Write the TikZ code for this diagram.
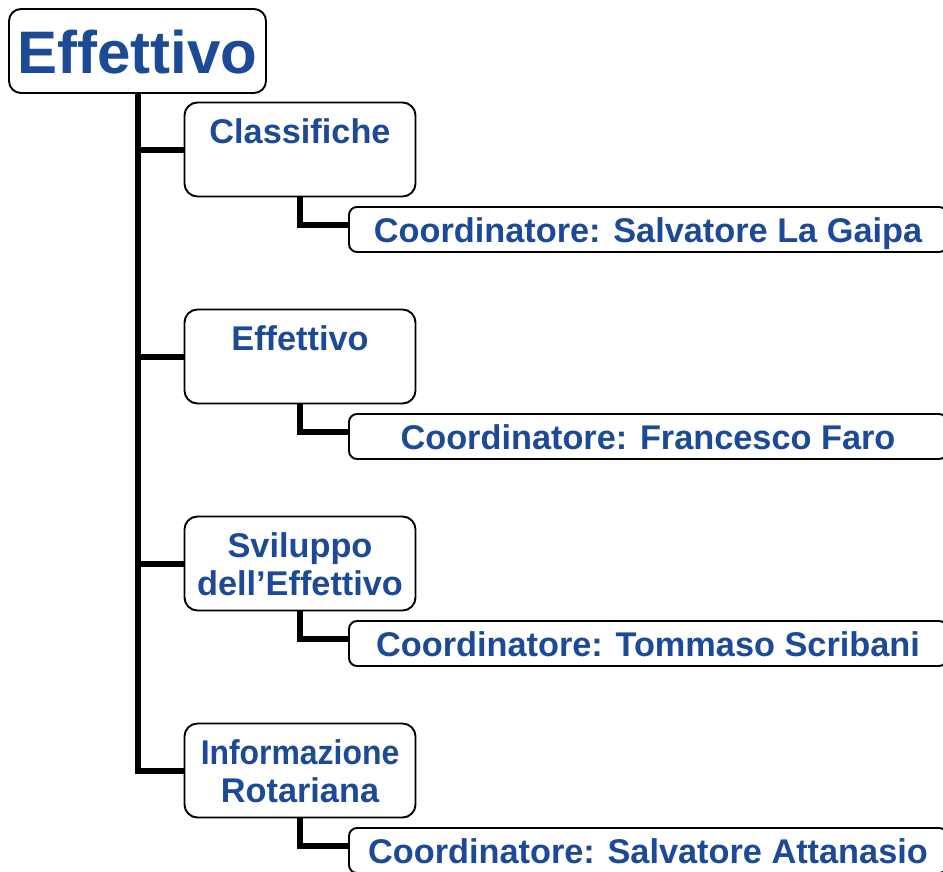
\documentclass[tikz,border=0pt]{standalone}
\usepackage{fontspec}
\setmainfont{Liberation Sans}
\usetikzlibrary{backgrounds}
\definecolor{txtblue}{RGB}{28,74,150}
\tikzset{
  rootbox/.style={draw=black, line width=1.9pt, rounded corners=12pt, fill=white, minimum width=257pt, minimum height=84pt, inner sep=0pt},
  catbox/.style={draw=black, line width=1.9pt, rounded corners=13pt, fill=white, minimum width=231pt, minimum height=94pt, inner sep=0pt},
  coordbox/.style={draw=black, line width=1.9pt, rounded corners=8pt, fill=white, minimum width=598pt, minimum height=45pt, inner sep=0pt},
  conn/.style={draw=black, line width=6pt},
  roottxt/.style={text=txtblue, font=\fontsize{60}{66}\selectfont\bfseries, inner sep=0pt, anchor=base},
  cattxt/.style={text=txtblue, font=\fontsize{34.3}{38}\selectfont\bfseries, inner sep=0pt, anchor=base, align=center},
  coordtxt/.style={text=txtblue, font=\fontsize{34.3}{38}\selectfont\bfseries, inner sep=0pt, anchor=base}
}
\begin{document}
\begin{tikzpicture}[x=1pt,y=-1pt]
\useasboundingbox (0,0) rectangle (943,871);
\node[rootbox] (root) at (137.5,51) {};
\node[catbox] (c1) at (300,149.5) {};
\node[catbox] (c2) at (300,356.5) {};
\node[catbox] (c3) at (300,563.5) {};
\node[catbox] (c4) at (300,770.5) {};
\node[coordbox] (k1) at (648,229.5) {};
\node[coordbox] (k2) at (648,436.5) {};
\node[coordbox] (k3) at (648,643.5) {};
\node[coordbox] (k4) at (648,850.5) {};
\begin{scope}[on background layer]
\draw[conn] (root.south) |- (c4.west);
\draw[conn] (root.south |- c1.west) -- (c1.west);
\draw[conn] (root.south |- c2.west) -- (c2.west);
\draw[conn] (root.south |- c3.west) -- (c3.west);
\draw[conn] (c1.south) |- ([yshift=4.5pt]k1.west);
\draw[conn] (c2.south) |- ([yshift=4.5pt]k2.west);
\draw[conn] (c3.south) |- ([yshift=4.5pt]k3.west);
\draw[conn] (c4.south) |- ([yshift=4.5pt]k4.west);
\end{scope}
\node[roottxt] (troot) at (137.5,73) {Effettivo};
\node[cattxt] (t1) at (300,143) {Classifiche};
\node[cattxt] (t2) at (300,350) {Effettivo};
\node[cattxt] (t3) at (300,595) {Sviluppo\\dell’Effettivo};
\node[cattxt] (t4) at (300,802) {\scalebox{0.93}[1]{Informazione}\\Rotariana};
\node[coordtxt] (u1) at (648,242) {Coordinatore: Salvatore La Gaipa};
\node[coordtxt] (u2) at (648,449) {Coordinatore: Francesco Faro};
\node[coordtxt] (u3) at (648,656) {Coordinatore: Tommaso Scribani};
\node[coordtxt] (u4) at (648,863) {Coordinatore: Salvatore Attanasio};
\end{tikzpicture}
\end{document}
